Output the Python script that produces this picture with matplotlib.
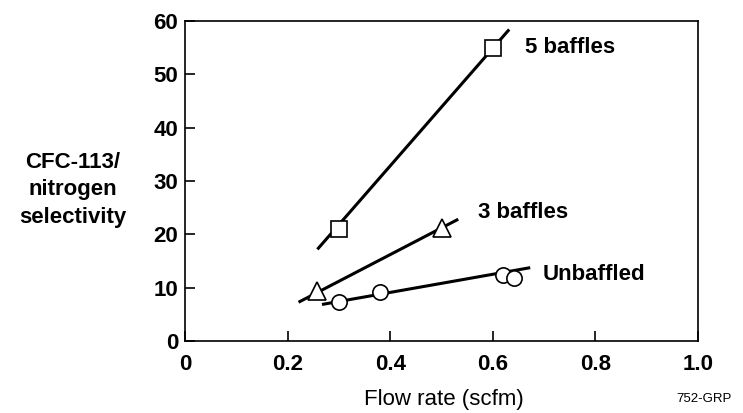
import matplotlib
matplotlib.use('Agg')
import matplotlib.pyplot as plt

# measured points
x5 = [0.30, 0.60]
y5 = [21, 55]
x3 = [0.257, 0.50]
y3 = [9.3, 21.1]
xu = [0.30, 0.38, 0.62, 0.642]
yu = [7.4, 9.1, 12.4, 11.8]

# fitted line end points
fit5_x = [0.26, 0.63]
fit5_y = [17.4, 58.2]
fit3_x = [0.224, 0.53]
fit3_y = [7.4, 22.7]
fitu_x = [0.27, 0.67]
fitu_y = [6.9, 13.7]

labels = ['5 baffles', '3 baffles', 'Unbaffled']
label_x = [0.663, 0.571, 0.698]
label_y = [55.1, 24.0, 12.4]

xticks = [0, 0.2, 0.4, 0.6, 0.8, 1.0]
xticklabels = ['0', '0.2', '0.4', '0.6', '0.8', '1.0']
yticks = [0, 10, 20, 30, 40, 50, 60]

plt.rcParams['font.family'] = ['Liberation Sans', 'DejaVu Sans']

fig = plt.figure(figsize=(7.43, 4.13), dpi=100)
ax = fig.add_axes([185 / 743, 1 - 341 / 413, 513 / 743, 320 / 413])

lw = 2.2
ax.plot(fit5_x, fit5_y, color='black', lw=lw, zorder=2)
ax.plot(fit3_x, fit3_y, color='black', lw=lw, zorder=2)
ax.plot(fitu_x, fitu_y, color='black', lw=lw, zorder=2)

ax.plot(x5, y5, ls='none', marker='s', ms=12, mfc='white', mec='black', mew=1.2, zorder=3)
ax.plot(x3, y3, ls='none', marker='^', ms=13, mfc='white', mec='black', mew=1.2, zorder=3)
ax.plot(xu, yu, ls='none', marker='o', ms=11, mfc='white', mec='black', mew=1.2, zorder=3)

for t, lx, ly in zip(labels, label_x, label_y):
    ax.text(lx, ly, t, fontsize=16, fontweight='bold', va='center', ha='left')

ax.set_xlim(0, 1.0)
ax.set_ylim(0, 60)
ax.set_xticks(xticks)
ax.set_xticklabels(xticklabels)
ax.set_yticks(yticks)
ax.tick_params(direction='in', length=7, width=1.2, labelsize=16)
ax.tick_params(axis='x', pad=9)
ax.tick_params(axis='y', pad=5)
for lab in ax.get_xticklabels() + ax.get_yticklabels():
    lab.set_fontweight('bold')
for s in ax.spines.values():
    s.set_linewidth(1.2)

fig.text(444 / 743, 1 - 399 / 413, 'Flow rate (scfm)', fontsize=16, ha='center', va='center')
fig.text(73 / 743, 1 - 190 / 413, 'CFC-113/\nnitrogen\nselectivity', fontsize=16,
         fontweight='bold', ha='center', va='center', linespacing=1.4)
fig.text(704 / 743, 1 - 399 / 413, '752-GRP', fontsize=9.5, ha='center', va='center')

fig.savefig('out.png', dpi=100)
